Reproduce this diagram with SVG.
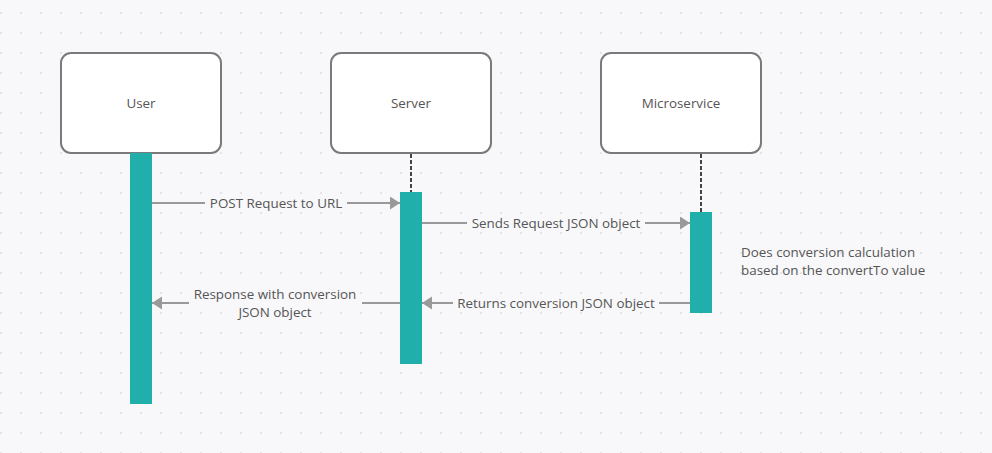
<svg xmlns="http://www.w3.org/2000/svg" width="992" height="453" viewBox="0 0 992 453">
<defs>
<pattern id="dots" x="0" y="0" width="20" height="20" patternUnits="userSpaceOnUse">
<circle cx="1" cy="13" r="1" fill="#dcdce2"/>
</pattern>
<marker id="arr" markerWidth="11" markerHeight="14" refX="10" refY="6.5" orient="auto" markerUnits="userSpaceOnUse">
<path d="M0,0 L10,6.5 L0,13 z" fill="#999999"/>
</marker>
<style>
.box{fill:#ffffff;stroke:#7a7a7a;stroke-width:2}
.bar{fill:#21afac}
.life{stroke:#444;stroke-width:2;stroke-dasharray:4 2;fill:none}
.msg{stroke:#999999;stroke-width:2;fill:none}
text{font-family:"Open Sans","Noto Sans","Liberation Sans",sans-serif;font-size:13.4px;fill:#555555}
.c{text-anchor:middle}
</style>
</defs>
<rect width="992" height="453" fill="#f8f8fa"/>
<rect width="992" height="453" fill="url(#dots)"/>

<g id="lifelines">
<line class="life" x1="411" y1="154" x2="411" y2="192"/>
<line class="life" x1="701" y1="154" x2="701" y2="212"/>
</g>

<g id="user">
<rect class="box" x="61" y="53" width="160" height="100" rx="10"/>
<text class="c" x="141" y="108">User</text>
<rect class="bar" x="130" y="153" width="22" height="251"/>
</g>
<g id="server">
<rect class="box" x="331" y="53" width="160" height="100" rx="10"/>
<text class="c" x="411" y="108">Server</text>
<rect class="bar" x="400" y="192" width="22" height="172"/>
</g>
<g id="microservice">
<rect class="box" x="601" y="53" width="160" height="100" rx="10"/>
<text class="c" x="681" y="108">Microservice</text>
<rect class="bar" x="690" y="212" width="22" height="101"/>
</g>

<g id="connectors">
<line class="msg" x1="152" y1="203" x2="205" y2="203"/>
<line class="msg" x1="347" y1="203" x2="400" y2="203" marker-end="url(#arr)"/>
<text class="c" x="276" y="208">POST Request to URL</text>

<line class="msg" x1="422" y1="223" x2="467" y2="223"/>
<line class="msg" x1="645" y1="223" x2="690" y2="223" marker-end="url(#arr)"/>
<text class="c" x="556" y="228">Sends Request JSON object</text>

<line class="msg" x1="690" y1="303" x2="659" y2="303"/>
<line class="msg" x1="453" y1="303" x2="422" y2="303" marker-end="url(#arr)"/>
<text class="c" x="556" y="308">Returns conversion JSON object</text>

<line class="msg" x1="400" y1="303" x2="362" y2="303"/>
<line class="msg" x1="189" y1="303" x2="152" y2="303" marker-end="url(#arr)"/>
<text class="c" x="275" y="299">Response with conversion</text>
<text class="c" x="275" y="317">JSON object</text>
</g>

<g id="note">
<text x="741" y="257">Does conversion calculation</text>
<text x="741" y="275">based on the convertTo value</text>
</g>
</svg>
